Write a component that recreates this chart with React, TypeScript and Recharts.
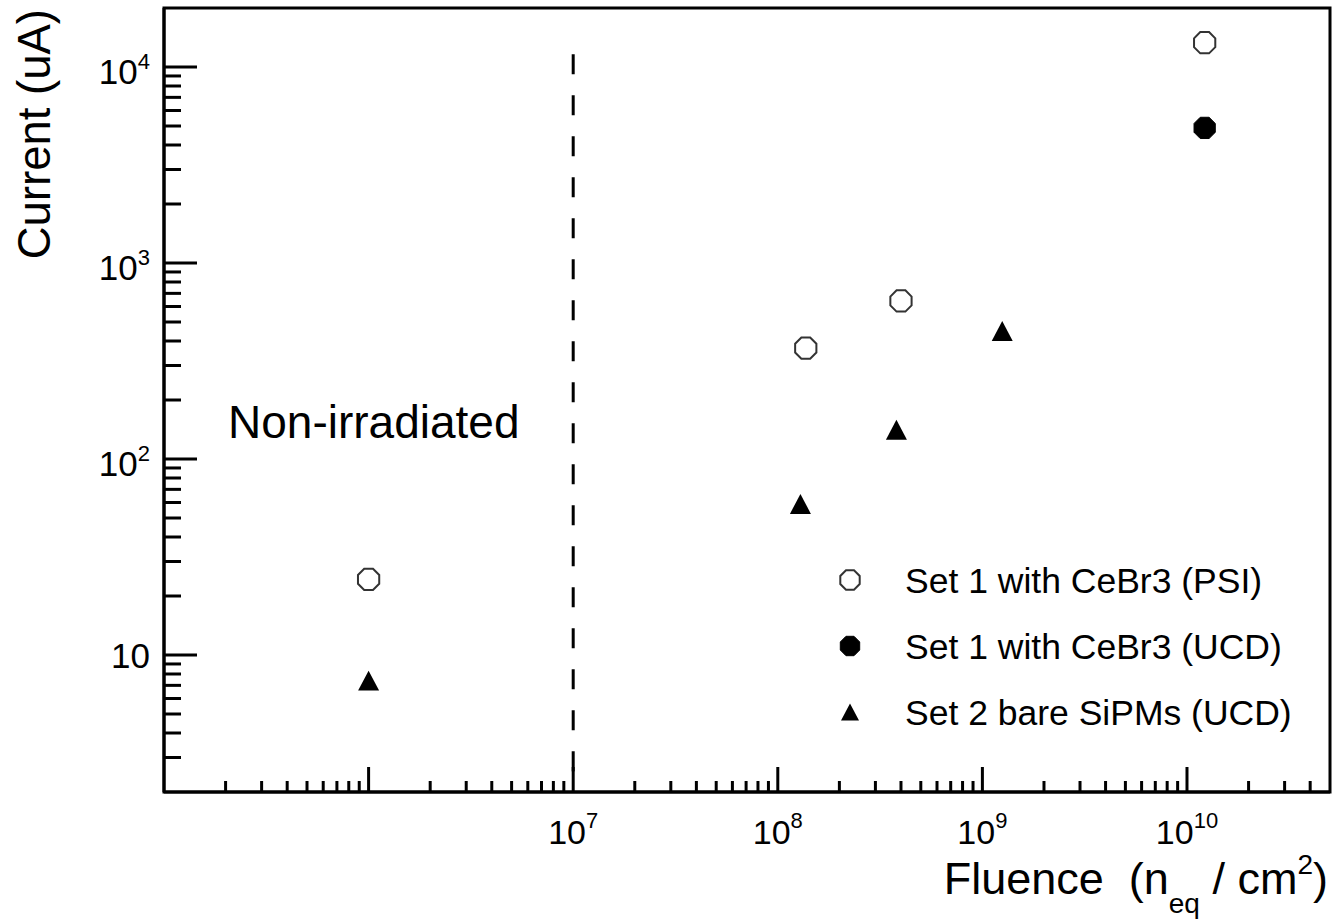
import React from 'react';
import {
    ScatterChart, Scatter, XAxis, YAxis, ReferenceLine, ReferenceArea
} from 'recharts';

// fluence in n_eq / cm^2, current in uA
const psiFluence = [1e6, 1.37e8, 4.0e8, 1.22e10];
const psiCurrent = [24.3, 368, 640, 13300];
const ucdFluence = [1.22e10];
const ucdCurrent = [4890];
const bareFluence = [1e6, 1.29e8, 3.8e8, 1.25e9];
const bareCurrent = [7.4, 59, 141, 450];

const seriesNames = ['Set 1 with CeBr3 (PSI)', 'Set 1 with CeBr3 (UCD)', 'Set 2 bare SiPMs (UCD)'];

const xDecades = [1e5, 1e6, 1e7, 1e8, 1e9, 1e10];
const yDecades = [1, 10, 100, 1000, 10000];
const xLabelled = [1e7, 1e8, 1e9, 1e10];
const yLabelled = [10, 100, 1000, 10000];
const xDomain: [number, number] = [1e5, 5e10];
const yDomain: [number, number] = [2, 2e4];
const boundaryTop = 1.16e4; // where the dashed separator starts
const boundaryFluence = 1e7;

const FONT = '"Liberation Sans", Arial, Helvetica, sans-serif';

// log ticks: 1..9 x each decade, strictly inside the domain
const logTicks = (decades: number[], domain: [number, number]) => {
    const out: number[] = [];
    decades.forEach(d => {
        for (let k = 1; k <= 9; k++) {
            const v = k * d;
            if (v > domain[0] && v < domain[1]) out.push(v);
        }
    });
    return out;
};

const xTicks = logTicks(xDecades, xDomain);
const yTicks = logTicks(yDecades, yDomain);

const toPoints = (xs: number[], ys: number[]) => xs.map((x, i) => ({ x, y: ys[i] }));

const octagon = (cx: number, cy: number, r: number) => {
    const pts: string[] = [];
    for (let i = 0; i < 8; i++) {
        const a = (Math.PI / 8) + i * Math.PI / 4;
        pts.push(`${cx + r * Math.cos(a)},${cy + r * Math.sin(a)}`);
    }
    return pts.join(' ');
};

const OpenMarker = ({ cx, cy, r = 11.5 }: any) => (
    <polygon points={octagon(cx, cy, r)} fill="none" stroke="#333" strokeWidth={2} />
);
const FilledMarker = ({ cx, cy, r = 11.5 }: any) => (
    <polygon points={octagon(cx, cy, r)} fill="#000" stroke="#000" strokeWidth={1} />
);
const TriangleMarker = ({ cx, cy, s = 10.5 }: any) => (
    <polygon points={`${cx - s},${cy + s * 0.95} ${cx + s},${cy + s * 0.95} ${cx},${cy - s * 0.95}`} fill="#000" />
);

const markers = [OpenMarker, FilledMarker, TriangleMarker];

const XTick = (props: any) => {
    const { x, y, payload } = props;
    const v = payload.value;
    const major = xDecades.includes(v);
    return (
        <g>
            <line x1={x} x2={x} y1={y} y2={y - (major ? 25 : 11)} stroke="#000" strokeWidth={3} />
            {xLabelled.includes(v) && (
                <text x={x} y={y + 52} textAnchor="middle" fontFamily={FONT} fontSize={34} fill="#000">
                    10<tspan fontSize={22} dy={-16}>{Math.round(Math.log10(v))}</tspan>
                </text>
            )}
        </g>
    );
};

const YTick = (props: any) => {
    const { x, y, payload } = props;
    const v = payload.value;
    const major = yDecades.includes(v);
    return (
        <g>
            <line x1={x} x2={x + (major ? 33 : 17)} y1={y} y2={y} stroke="#000" strokeWidth={3} />
            {yLabelled.includes(v) && (
                v === 10 ? (
                    <text x={x - 14} y={y + 13} textAnchor="end" fontFamily={FONT} fontSize={35} fill="#000">10</text>
                ) : (
                    <text x={x - 14} y={y + 17} textAnchor="end" fontFamily={FONT} fontSize={35} fill="#000">
                        10<tspan fontSize={22} dy={-15}>{Math.round(Math.log10(v))}</tspan>
                    </text>
                )
            )}
        </g>
    );
};

const YTitle = () => (
    <text transform="translate(50,9) rotate(-90)" textAnchor="end" fontFamily={FONT} fontSize={45.5} fill="#000">
        Current (uA)
    </text>
);

const XTitle = () => (
    <text x={1328} y={894} textAnchor="end" fontFamily={FONT} fontSize={45} fill="#000" style={{ whiteSpace: 'pre' }}>
        {'Fluence  (n'}
        <tspan fontSize={28} dy={19}>eq</tspan>
        <tspan fontSize={45} dy={-19}>{' / cm'}</tspan>
        <tspan fontSize={28} dy={-20}>2</tspan>
        <tspan fontSize={45} dy={20}>)</tspan>
    </text>
);

const legendRows = [580, 646, 712];

const LegendBox = () => (
    <g>
        {seriesNames.map((name, i) => {
            const M = markers[i];
            return (
                <g key={name}>
                    <M cx={850} cy={legendRows[i]} r={10.5} s={9} />
                    <text x={905} y={legendRows[i] + 13} fontFamily={FONT} fontSize={35.5} fill="#000">{name}</text>
                </g>
            );
        })}
    </g>
);

export default function App() {
    return (
        <div style={{ position: 'absolute', left: 0, top: 0, background: '#fff' }}>
            <ScatterChart width={1333} height={922} margin={{ top: 8, right: 3, left: 0, bottom: 0 }}>
                <ReferenceArea
                    x1={xDomain[0]} x2={xDomain[1]} y1={yDomain[0]} y2={yDomain[1]}
                    fill="none" fillOpacity={0} stroke="#000" strokeWidth={3} strokeOpacity={1}
                />
                <XAxis
                    dataKey="x"
                    type="number"
                    scale="log"
                    domain={xDomain}
                    allowDataOverflow
                    ticks={xTicks}
                    interval={0}
                    tick={<XTick />}
                    tickLine={false}
                    tickSize={0}
                    tickMargin={0}
                    height={130}
                    axisLine={{ stroke: '#000', strokeWidth: 3 }}
                />
                <YAxis
                    dataKey="y"
                    type="number"
                    scale="log"
                    domain={yDomain}
                    allowDataOverflow
                    ticks={yTicks}
                    interval={0}
                    tick={<YTick />}
                    tickLine={false}
                    tickSize={0}
                    tickMargin={0}
                    width={164}
                    axisLine={{ stroke: '#000', strokeWidth: 3 }}
                />
                <ReferenceLine
                    segment={[{ x: boundaryFluence, y: boundaryTop }, { x: boundaryFluence, y: yDomain[0] }]}
                    stroke="#000"
                    strokeWidth={3}
                    strokeDasharray="20 21"
                />
                <Scatter name={seriesNames[0]} data={toPoints(psiFluence, psiCurrent)} shape={<OpenMarker />} isAnimationActive={false} />
                <Scatter name={seriesNames[1]} data={toPoints(ucdFluence, ucdCurrent)} shape={<FilledMarker />} isAnimationActive={false} />
                <Scatter name={seriesNames[2]} data={toPoints(bareFluence, bareCurrent)} shape={<TriangleMarker />} isAnimationActive={false} />
                <text x={228} y={438} fontFamily={FONT} fontSize={46} fill="#000">Non-irradiated</text>
                <LegendBox />
                <YTitle />
                <XTitle />
            </ScatterChart>
        </div>
    );
}
